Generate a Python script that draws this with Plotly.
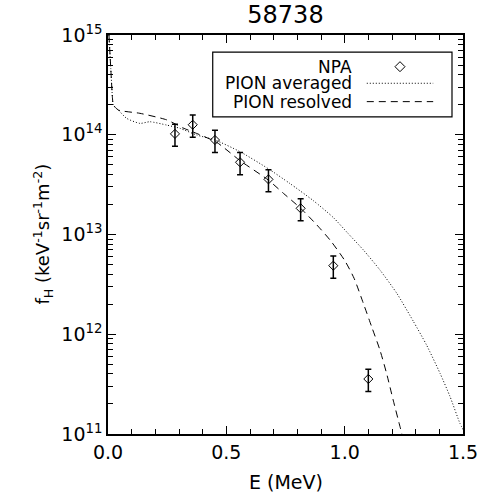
import plotly.graph_objects as go

# NPA measurements
npa_e = [0.283, 0.358, 0.452, 0.558, 0.678, 0.814, 0.952, 1.10]
npa_f = [1.02e14, 1.26e14, 8.86e13, 5.3e13, 3.57e13, 1.83e13, 4.87e12, 3.56e11]
npa_err = [0.25 * f for f in npa_f]

# PION averaged (dotted)
avg_e = [0.004, 0.012, 0.019, 0.0224, 0.0435, 0.079, 0.135, 0.177, 0.248, 0.304,
         0.375, 0.452, 0.558, 0.677, 0.769, 0.867, 0.952, 1.015, 1.079, 1.149,
         1.220, 1.290, 1.346, 1.403, 1.445, 1.487, 1.501]
avg_f = [1.0e15, 4.5e14, 2.3e14, 1.99e14, 1.77e14, 1.46e14, 1.30e14, 1.35e14,
         1.25e14, 1.16e14, 9.94e13, 8.86e13, 6.76e13, 4.57e13, 3.24e13, 2.19e13,
         1.48e13, 1.02e13, 7.0e12, 4.41e12, 2.58e12, 1.35e12, 7.8e11, 4.06e11,
         2.38e11, 1.28e11, 1.10e11]

# PION resolved (dashed)
res_e = [0.004, 0.012, 0.019, 0.0224, 0.0435, 0.135, 0.248, 0.317, 0.375, 0.459,
         0.558, 0.677, 0.741, 0.814, 0.882, 0.94, 1.00, 1.04, 1.079, 1.114, 1.149,
         1.177, 1.205, 1.234, 1.241, 1.246]
res_f = [1.0e15, 4.5e14, 2.3e14, 1.99e14, 1.77e14, 1.64e14, 1.41e14, 1.17e14,
         1.03e14, 8.4e13, 5.5e13, 3.52e13, 2.59e13, 1.83e13, 1.25e13, 8.7e12,
         5.5e12, 3.63e12, 2.04e12, 1.19e12, 6.95e11, 4.06e11, 2.19e11, 1.18e11,
         1.02e11, 9.0e10]

y_tickvals = [1e11, 1e12, 1e13, 1e14, 1e15]
y_ticktext = ["10<sup>11</sup>", "10<sup>12</sup>", "10<sup>13</sup>",
              "10<sup>14</sup>", "10<sup>15</sup>"]
y_minor = [m * 10.0 ** k for k in range(11, 15) for m in range(2, 10)]
x_tickvals = [0.0, 0.5, 1.0, 1.5]
x_ticktext = ["0.0", "0.5", "1.0", "1.5"]
x_minor = [i / 10 for i in range(16) if i % 5]

FONT = "DejaVu Sans"

fig = go.Figure()
fig.add_trace(go.Scatter(x=avg_e, y=avg_f, mode="lines",
                         line=dict(color="black", width=1, dash="1px,2px",
                                   shape="spline", smoothing=0.6)))
fig.add_trace(go.Scatter(x=res_e, y=res_f, mode="lines",
                         line=dict(color="black", width=1, dash="7px,5px",
                                   shape="spline", smoothing=0.6)))
fig.add_trace(go.Scatter(x=npa_e, y=npa_f, mode="markers",
                         marker=dict(symbol="diamond-open", size=7, color="black",
                                     line=dict(width=1, color="black")),
                         error_y=dict(type="data", array=npa_err, color="black",
                                      thickness=1.5, width=3)))

axis_common = dict(showgrid=False, zeroline=False, showline=True, linecolor="black",
                   linewidth=1.5, mirror="allticks", ticks="inside", tickcolor="black",
                   tickwidth=1, ticklen=8, tickfont=dict(family=FONT, size=19, color="black"))

fig.update_xaxes(range=[0, 1.5], tickvals=x_tickvals, ticktext=x_ticktext,
                 minor=dict(ticks="inside", tickvals=x_minor, ticklen=5,
                            tickcolor="black", tickwidth=1),
                 **axis_common)
fig.update_yaxes(type="log", range=[11, 15], tickvals=y_tickvals, ticktext=y_ticktext,
                 minor=dict(ticks="inside", tickvals=y_minor, ticklen=5,
                            tickcolor="black", tickwidth=1),
                 **axis_common)

# hand-drawn legend (text left, symbol right)
legend_rows = [("NPA", 0.9206), ("PION averaged", 0.879), ("PION resolved", 0.833)]
for label, yy in legend_rows:
    fig.add_annotation(xref="paper", yref="paper", x=0.693, y=yy, text=label,
                       showarrow=False, xanchor="right", yanchor="middle",
                       font=dict(family=FONT, size=17, color="black"))
fig.add_shape(type="rect", xref="paper", yref="paper", x0=0.295, x1=0.969,
              y0=0.795, y1=0.957, line=dict(color="black", width=1.2))
fig.add_shape(type="path", xref="paper", yref="paper", xsizemode="pixel",
              ysizemode="pixel", xanchor=0.8225, yanchor=0.9206,
              path="M0,5 L5,0 L0,-5 L-5,0 Z", line=dict(color="black", width=1))
fig.add_shape(type="line", xref="paper", yref="paper", x0=0.729, x1=0.916,
              y0=0.879, y1=0.879, line=dict(color="black", width=1, dash="1px,2px"))
fig.add_shape(type="line", xref="paper", yref="paper", x0=0.729, x1=0.916,
              y0=0.833, y1=0.833, line=dict(color="black", width=1, dash="7px,5px"))

fig.add_annotation(xref="paper", yref="paper", x=-0.228, y=0.5, textangle=-90,
                   text="f<sub>H</sub> (keV<sup>-1</sup>sr<sup>-1</sup>m<sup>-2</sup>)",
                   showarrow=False, font=dict(family=FONT, size=18, color="black"))
fig.add_annotation(xref="paper", yref="paper", x=0.5, y=-0.12, yanchor="middle",
                   text="E (MeV)", showarrow=False,
                   font=dict(family=FONT, size=19, color="black"))

fig.update_layout(width=489, height=503, showlegend=False,
                  margin=dict(l=108, r=26, t=35, b=69),
                  paper_bgcolor="white", plot_bgcolor="white",
                  title=dict(text="58738", xref="paper", x=0.5, xanchor="center",
                             y=0.9702, yanchor="middle",
                             font=dict(family=FONT, size=24, color="black")))

# drop the browser's default 8px body margin so the figure fills the window
fig.write_html("out.html", config={"displayModeBar": False},
               post_script="document.body.style.margin='0px';")
